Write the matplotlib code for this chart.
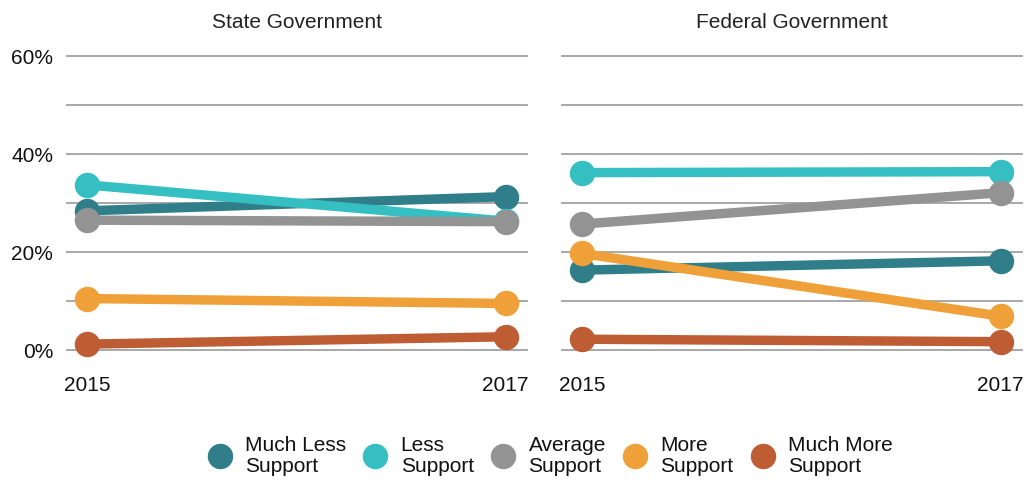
import numpy as np
import matplotlib
matplotlib.use('Agg')
import matplotlib.pyplot as plt
from matplotlib.lines import Line2D
from matplotlib.ticker import MultipleLocator, FuncFormatter

plt.rcParams['font.family'] = ['Liberation Sans', 'DejaVu Sans']

# Data (percent)
years = ['2015', '2017']
series = ['Much Less\nSupport', 'Less\nSupport', 'Average\nSupport', 'More\nSupport', 'Much More\nSupport']
colors = ['#2f7e89', '#36bfc2', '#939393', '#f0a038', '#be5d34']

state_vals = [
    [28.4, 31.3],
    [33.7, 26.3],
    [26.5, 26.2],
    [10.5, 9.5],
    [1.2, 2.7],
]
federal_vals = [
    [16.3, 18.2],
    [36.2, 36.4],
    [25.7, 32.1],
    [19.7, 6.9],
    [2.2, 1.7],
]
panels = ['State Government', 'Federal Government']

fig = plt.figure(figsize=(10.28, 4.8), dpi=100, facecolor='white')
ax1 = fig.add_axes([67/1028, 130/480, 460/1028, 294/480])
ax2 = fig.add_axes([562/1028, 130/480, 460/1028, 294/480])

x = np.arange(len(years))
for ax, vals, title in zip([ax1, ax2], [state_vals, federal_vals], panels):
    for v, c in zip(vals, colors):
        ax.plot(x, v, color=c, lw=6.8, marker='o', markersize=17.3,
                solid_capstyle='butt', clip_on=False, zorder=3)
    ax.set_xlim(-0.048, 1.051)
    ax.set_ylim(0, 60)
    ax.yaxis.set_major_locator(MultipleLocator(20))
    ax.yaxis.set_minor_locator(MultipleLocator(10))
    ax.yaxis.set_major_formatter(FuncFormatter(lambda v, p: f'{v:.0f}%'))
    ax.grid(axis='y', which='both', color='#a8a8a8', lw=1.4, zorder=0)
    for gl in ax.get_ygridlines():
        gl.set_clip_on(False)
    for t in ax.yaxis.get_minor_ticks():
        t.gridline.set_clip_on(False)
    ax.set_xticks(x)
    ax.set_xticklabels(years)
    ax.tick_params(axis='x', length=0, pad=18.5, labelsize=15, labelcolor='#111111')
    ax.tick_params(axis='y', which='both', length=0, pad=10, labelsize=15, labelcolor='#111111')
    for s in ax.spines.values():
        s.set_visible(False)
    ax.set_title(title, fontsize=15, color='#222222', pad=20)
    ax.set_axisbelow(True)

ax2.tick_params(axis='y', labelleft=False)

handles = [Line2D([], [], ls='none', marker='o', markersize=17.3, color=c) for c in colors]
leg = fig.legend(handles, series, loc='center', bbox_to_anchor=(550/1028, 24/480), ncol=5,
                 frameon=False, fontsize=15, handlelength=1.2, handletextpad=0.62,
                 columnspacing=0.8, borderpad=0, labelspacing=0)
for t in leg.get_texts():
    t.set_multialignment('left')
    t.set_linespacing(1.12)
    t.set_color('#111111')

plt.savefig('out.png', dpi=100, facecolor=fig.get_facecolor())
